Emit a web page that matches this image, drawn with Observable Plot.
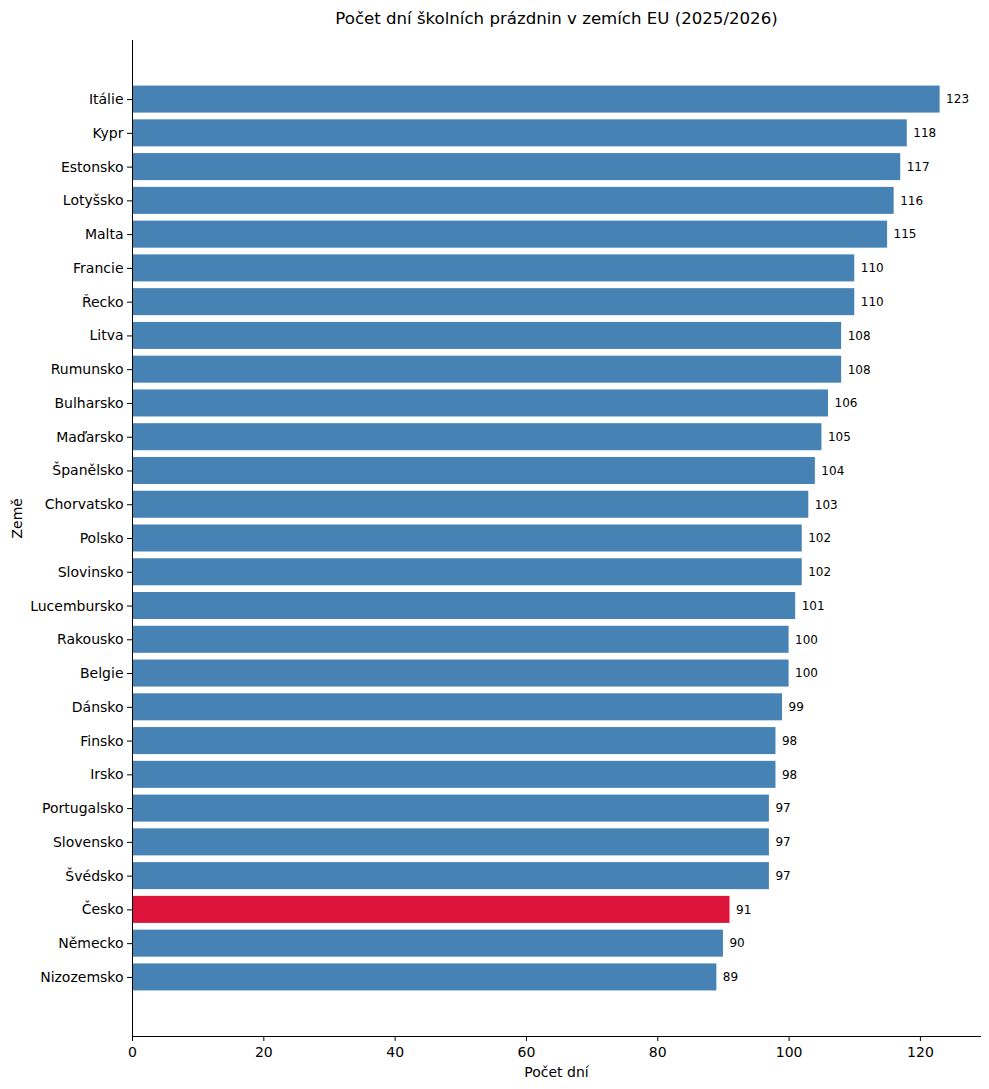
<!DOCTYPE html>
<html>
<head>
<meta charset="utf-8">
<script src="https://cdn.jsdelivr.net/npm/d3@7"></script>
<script src="https://cdn.jsdelivr.net/npm/@observablehq/plot@0.6"></script>
<style>
  html, body { margin: 0; padding: 0; background: #fff; }
  #chart svg { display: block; }
</style>
</head>
<body>
<div id="chart"></div>
<script>
const countries = ["Itálie","Kypr","Estonsko","Lotyšsko","Malta","Francie","Řecko","Litva","Rumunsko","Bulharsko","Maďarsko","Španělsko","Chorvatsko","Polsko","Slovinsko","Lucembursko","Rakousko","Belgie","Dánsko","Finsko","Irsko","Portugalsko","Slovensko","Švédsko","Česko","Německo","Nizozemsko"];
const days = [123,118,117,116,115,110,110,108,108,106,105,104,103,102,102,101,100,100,99,98,98,97,97,97,91,90,89];
const highlight = "Česko";
const xTicks = [0,20,40,60,80,100,120];
const title = "Počet dní školních prázdnin v zemích EU (2025/2026)";

const data = countries.map((c, i) => ({country: c, days: days[i]}));
const font = "DejaVu Sans, sans-serif";

const chart = Plot.plot({
  width: 989,
  height: 1089,
  marginTop: 40,
  marginBottom: 53,
  marginLeft: 132,
  marginRight: 9,
  style: {fontFamily: font, fontSize: "14px", color: "#000", background: "#fff"},
  x: {domain: [0, 123 * 1.05]},
  y: {domain: countries, paddingInner: 0.2, paddingOuter: 1.35, round: false},
  marks: [
    Plot.barX(data, {
      y: "country", x: "days",
      fill: d => d.country === highlight ? "#dc143c" : "#4682b4"
    }),
    Plot.text(data, {
      y: "country", x: "days", text: d => String(d.days),
      textAnchor: "start", dx: 6, fontSize: 12, fill: "#000"
    }),
    Plot.axisX({
      ticks: xTicks, tickSize: 5, tickPadding: 6, fontSize: 14,
      label: null, stroke: "#000"
    }),
    Plot.axisY({
      tickSize: 5, tickPadding: 4, fontSize: 14, label: null, stroke: "#000"
    }),
    Plot.frame({anchor: "left", stroke: "#000", strokeWidth: 1}),
    Plot.frame({anchor: "bottom", stroke: "#000", strokeWidth: 1}),
    Plot.text([title], {frameAnchor: "top", lineAnchor: "middle", dy: -22, fontSize: 16.6, fill: "#000"}),
    Plot.text(["Počet dní"], {frameAnchor: "bottom", lineAnchor: "middle", dy: 36, fontSize: 14, fill: "#000"}),
    Plot.text(["Země"], {frameAnchor: "left", dx: -115, rotate: -90, fontSize: 14, fill: "#000"})
  ]
});

document.getElementById("chart").appendChild(chart);
</script>
</body>
</html>
